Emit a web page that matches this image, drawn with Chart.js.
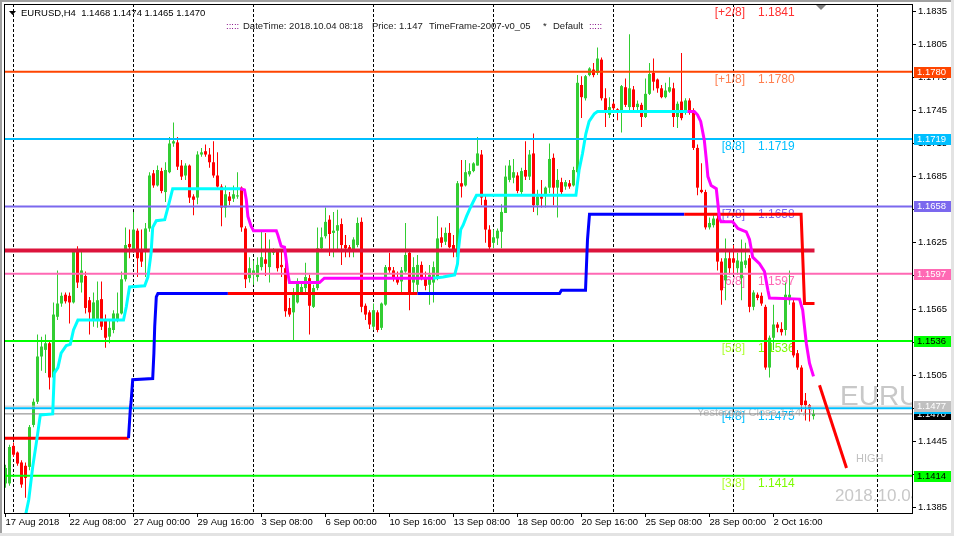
<!DOCTYPE html>
<html>
<head>
<meta charset="utf-8">
<title>EURUSD,H4</title>
<script src="https://cdn.jsdelivr.net/npm/chart.js@4.4.0/dist/chart.umd.min.js"></script>
<style>
    html, body { margin: 0; padding: 0; background: #fff; }
    #wrap { width: 954px; height: 536px; position: relative; }
</style>
</head>
<body>
<div id="wrap"><canvas id="priceChart" width="954" height="536"></canvas></div>
<script>
// x-axis labels (bar index -> text) and weekly separators
const timeTickIndex = [0, 16, 32, 48, 64, 80, 96, 112, 128, 144, 160, 176, 192];
const timeTickText = ['17 Aug 2018', '22 Aug 08:00', '27 Aug 00:00', '29 Aug 16:00', '3 Sep 08:00', '6 Sep 00:00',
    '10 Sep 16:00', '13 Sep 08:00', '18 Sep 00:00', '20 Sep 16:00', '25 Sep 08:00', '28 Sep 00:00', '2 Oct 16:00'];
const weekStarts = [2, 32, 62, 92, 122, 152, 182, 218];

// right price axis
const priceTicks = [1.1385, 1.1415, 1.1445, 1.1475, 1.1505, 1.1535, 1.1565, 1.1595,
    1.1625, 1.1655, 1.1685, 1.1715, 1.1745, 1.1775, 1.1805, 1.1835];

// H4 candles, one per bar (index 0 = 17 Aug 16:00)
const openP = [
    1.1407, 1.1407, 1.1441, 1.1435, 1.1426, 1.1423, 1.1422, 1.1460, 1.1481, 1.1522,
    1.1528, 1.1534, 1.1503, 1.1558, 1.1570, 1.1578, 1.1577, 1.1571, 1.1617, 1.1589,
    1.1595, 1.1573, 1.1555, 1.1555, 1.1574, 1.1555, 1.1540, 1.1546, 1.1555, 1.1561,
    1.1592, 1.1624, 1.1618, 1.1636, 1.1618, 1.1617, 1.1638, 1.1688, 1.1677, 1.1690,
    1.1671, 1.1689, 1.1715, 1.1716, 1.1695, 1.1686, 1.1695, 1.1667, 1.1666, 1.1705,
    1.1708, 1.1705, 1.1698, 1.1686, 1.1676, 1.1657, 1.1667, 1.1665, 1.1667, 1.1675,
    1.1638, 1.1593, 1.1596, 1.1594, 1.1603, 1.1610, 1.1603, 1.1616, 1.1617, 1.1605,
    1.1602, 1.1566, 1.1562, 1.1571, 1.1580, 1.1584, 1.1593, 1.1567, 1.1584, 1.1620,
    1.1631, 1.1646, 1.1634, 1.1636, 1.1642, 1.1623, 1.1621, 1.1618, 1.1623, 1.1644,
    1.1568, 1.1562, 1.1549, 1.1562, 1.1548, 1.1569, 1.1603, 1.1600, 1.1594, 1.1590,
    1.1599, 1.1616, 1.1589, 1.1587, 1.1605, 1.1594, 1.1587, 1.1589, 1.1593, 1.1630,
    1.1626, 1.1634, 1.1623, 1.1612, 1.1679, 1.1677, 1.1687, 1.1690, 1.1695, 1.1705,
    1.1664, 1.1637, 1.1625, 1.1629, 1.1635, 1.1652, 1.1682, 1.1684, 1.1686, 1.1671,
    1.1691, 1.1685, 1.1706, 1.1659, 1.1667, 1.1668, 1.1675, 1.1702, 1.1675, 1.1680,
    1.1676, 1.1679, 1.1677, 1.1689, 1.1768, 1.1756, 1.1777, 1.1782, 1.1779, 1.1791,
    1.1756, 1.1741, 1.1751, 1.1746, 1.1744, 1.1766, 1.1748, 1.1764, 1.1748, 1.1750,
    1.1739, 1.1760, 1.1779, 1.1773, 1.1765, 1.1757, 1.1762, 1.1765, 1.1739, 1.1753,
    1.1743, 1.1754, 1.1743, 1.1711, 1.1673, 1.1671, 1.1639, 1.1641, 1.1647, 1.1608,
    1.1591, 1.1611, 1.1611, 1.1602, 1.1593, 1.1605, 1.1611, 1.1567, 1.1578, 1.1577,
    1.1567, 1.1512, 1.1539, 1.1551, 1.1547, 1.1546, 1.1573, 1.1571, 1.1525, 1.1512,
    1.1482, 1.1478, 1.1468
];
const highP = [
    1.1424, 1.1442, 1.1444, 1.1436, 1.1428, 1.1426, 1.1460, 1.1484, 1.1542, 1.1540,
    1.1542, 1.1537, 1.1571, 1.1600, 1.1580, 1.1580, 1.1580, 1.1618, 1.1622, 1.1617,
    1.1599, 1.1576, 1.1580, 1.1590, 1.1590, 1.1560, 1.1555, 1.1564, 1.1580, 1.1599,
    1.1639, 1.1637, 1.1653, 1.1638, 1.1637, 1.1643, 1.1689, 1.1691, 1.1695, 1.1693,
    1.1698, 1.1721, 1.1734, 1.1721, 1.1700, 1.1697, 1.1696, 1.1669, 1.1708, 1.1711,
    1.1714, 1.1711, 1.1717, 1.1707, 1.1678, 1.1677, 1.1671, 1.1677, 1.1689, 1.1676,
    1.1640, 1.1612, 1.1609, 1.1612, 1.1635, 1.1634, 1.1628, 1.1620, 1.1618, 1.1617,
    1.1611, 1.1575, 1.1584, 1.1593, 1.1590, 1.1607, 1.1596, 1.1587, 1.1639, 1.1639,
    1.1657, 1.1650, 1.1653, 1.1655, 1.1647, 1.1632, 1.1623, 1.1630, 1.1648, 1.1648,
    1.1570, 1.1564, 1.1570, 1.1564, 1.1571, 1.1605, 1.1616, 1.1603, 1.1599, 1.1603,
    1.1643, 1.1618, 1.1612, 1.1614, 1.1608, 1.1599, 1.1605, 1.1608, 1.1649, 1.1639,
    1.1639, 1.1643, 1.1632, 1.1681, 1.1700, 1.1700, 1.1697, 1.1698, 1.1721, 1.1709,
    1.1668, 1.1641, 1.1637, 1.1638, 1.1660, 1.1695, 1.1700, 1.1701, 1.1689, 1.1693,
    1.1717, 1.1709, 1.1724, 1.1673, 1.1682, 1.1676, 1.1715, 1.1706, 1.1692, 1.1684,
    1.1682, 1.1682, 1.1694, 1.1777, 1.1776, 1.1777, 1.1784, 1.1788, 1.1802, 1.1793,
    1.1765, 1.1757, 1.1753, 1.1747, 1.1768, 1.1774, 1.1814, 1.1767, 1.1754, 1.1752,
    1.1774, 1.1788, 1.1792, 1.1774, 1.1768, 1.1770, 1.1775, 1.1770, 1.1753, 1.1797,
    1.1756, 1.1756, 1.1747, 1.1714, 1.1697, 1.1673, 1.1648, 1.1650, 1.1650, 1.1611,
    1.1629, 1.1618, 1.1623, 1.1616, 1.1628, 1.1625, 1.1614, 1.1582, 1.1580, 1.1580,
    1.1569, 1.1541, 1.1569, 1.1553, 1.1553, 1.1589, 1.1600, 1.1575, 1.1528, 1.1514,
    1.1489, 1.1479, 1.1474
];
const lowP = [
    1.1403, 1.1405, 1.1431, 1.1423, 1.1403, 1.1394, 1.1419, 1.1458, 1.1479, 1.1509,
    1.1507, 1.1492, 1.1502, 1.1555, 1.1567, 1.1570, 1.1552, 1.1570, 1.1584, 1.1580,
    1.1561, 1.1542, 1.1549, 1.1548, 1.1546, 1.1530, 1.1534, 1.1543, 1.1553, 1.1560,
    1.1590, 1.1611, 1.1616, 1.1594, 1.1603, 1.1594, 1.1635, 1.1675, 1.1676, 1.1670,
    1.1662, 1.1688, 1.1712, 1.1691, 1.1682, 1.1682, 1.1661, 1.1650, 1.1660, 1.1703,
    1.1703, 1.1693, 1.1684, 1.1675, 1.1640, 1.1648, 1.1659, 1.1662, 1.1665, 1.1635,
    1.1584, 1.1589, 1.1587, 1.1590, 1.1600, 1.1595, 1.1589, 1.1614, 1.1599, 1.1594,
    1.1558, 1.1558, 1.1537, 1.1570, 1.1578, 1.1580, 1.1542, 1.1566, 1.1582, 1.1618,
    1.1629, 1.1613, 1.1612, 1.1617, 1.1605, 1.1612, 1.1612, 1.1612, 1.1621, 1.1562,
    1.1555, 1.1547, 1.1546, 1.1544, 1.1546, 1.1568, 1.1598, 1.1590, 1.1587, 1.1578,
    1.1598, 1.1564, 1.1578, 1.1580, 1.1591, 1.1582, 1.1569, 1.1571, 1.1591, 1.1621,
    1.1623, 1.1620, 1.1612, 1.1609, 1.1666, 1.1676, 1.1685, 1.1689, 1.1695, 1.1659,
    1.1625, 1.1618, 1.1620, 1.1623, 1.1620, 1.1652, 1.1680, 1.1679, 1.1670, 1.1668,
    1.1682, 1.1682, 1.1653, 1.1650, 1.1657, 1.1657, 1.1670, 1.1659, 1.1648, 1.1669,
    1.1673, 1.1674, 1.1676, 1.1686, 1.1738, 1.1754, 1.1776, 1.1775, 1.1777, 1.1754,
    1.1730, 1.1738, 1.1744, 1.1736, 1.1725, 1.1748, 1.1745, 1.1745, 1.1745, 1.1730,
    1.1738, 1.1759, 1.1763, 1.1761, 1.1756, 1.1756, 1.1761, 1.1730, 1.1729, 1.1736,
    1.1741, 1.1741, 1.1709, 1.1668, 1.1670, 1.1637, 1.1637, 1.1639, 1.1600, 1.1569,
    1.1573, 1.1596, 1.1596, 1.1596, 1.1573, 1.1602, 1.1562, 1.1564, 1.1573, 1.1568,
    1.1510, 1.1503, 1.1528, 1.1544, 1.1541, 1.1541, 1.1569, 1.1521, 1.1510, 1.1472,
    1.1464, 1.1463, 1.1465
];
const closeP = [
    1.1421, 1.1440, 1.1433, 1.1425, 1.1406, 1.1412, 1.1458, 1.1481, 1.1522, 1.1531,
    1.1534, 1.1503, 1.1560, 1.1570, 1.1577, 1.1572, 1.1571, 1.1617, 1.1589, 1.1600,
    1.1566, 1.1562, 1.1571, 1.1573, 1.1549, 1.1539, 1.1548, 1.1561, 1.1561, 1.1592,
    1.1623, 1.1621, 1.1637, 1.1611, 1.1608, 1.1638, 1.1686, 1.1677, 1.1691, 1.1672,
    1.1691, 1.1715, 1.1717, 1.1694, 1.1685, 1.1695, 1.1666, 1.1664, 1.1705, 1.1707,
    1.1705, 1.1698, 1.1686, 1.1676, 1.1657, 1.1669, 1.1663, 1.1669, 1.1668, 1.1639,
    1.1592, 1.1602, 1.1600, 1.1605, 1.1612, 1.1606, 1.1617, 1.1617, 1.1602, 1.1603,
    1.1563, 1.1560, 1.1580, 1.1590, 1.1585, 1.1594, 1.1568, 1.1584, 1.1620, 1.1630,
    1.1644, 1.1633, 1.1636, 1.1641, 1.1623, 1.1620, 1.1619, 1.1628, 1.1643, 1.1567,
    1.1560, 1.1551, 1.1564, 1.1546, 1.1570, 1.1603, 1.1600, 1.1594, 1.1589, 1.1600,
    1.1614, 1.1578, 1.1603, 1.1605, 1.1594, 1.1586, 1.1596, 1.1603, 1.1629, 1.1625,
    1.1634, 1.1621, 1.1617, 1.1679, 1.1676, 1.1689, 1.1690, 1.1697, 1.1706, 1.1666,
    1.1637, 1.1621, 1.1630, 1.1636, 1.1653, 1.1685, 1.1695, 1.1689, 1.1672, 1.1690,
    1.1685, 1.1705, 1.1659, 1.1667, 1.1665, 1.1675, 1.1701, 1.1675, 1.1682, 1.1671,
    1.1680, 1.1676, 1.1691, 1.1770, 1.1757, 1.1776, 1.1783, 1.1777, 1.1792, 1.1756,
    1.1743, 1.1748, 1.1747, 1.1744, 1.1767, 1.1750, 1.1765, 1.1748, 1.1751, 1.1739,
    1.1760, 1.1778, 1.1771, 1.1765, 1.1757, 1.1763, 1.1766, 1.1739, 1.1751, 1.1738,
    1.1754, 1.1743, 1.1711, 1.1675, 1.1671, 1.1639, 1.1643, 1.1647, 1.1608, 1.1582,
    1.1611, 1.1602, 1.1607, 1.1609, 1.1608, 1.1609, 1.1567, 1.1580, 1.1575, 1.1570,
    1.1512, 1.1539, 1.1551, 1.1548, 1.1544, 1.1578, 1.1578, 1.1523, 1.1512, 1.1478,
    1.1478, 1.1474, 1.1470
];

// trailing line: vertices (bar position, price); u = cyan, d = magenta for the segment that starts there
const trendX = [5, 5.8, 6.8, 7.8, 8.7, 11.8, 12.2, 13.1, 13.9, 15.2, 16.2, 17, 18.1, 29.5, 30.2, 31, 34.8, 35.6,
    36.4, 36.8, 37.7, 39.8, 40.6, 41.8,
    58.7, 59.75, 60.2, 60.6, 61.4, 62, 67.7, 68.1, 68.9, 69.75, 70.2, 70.6, 71, 78.5, 79.7,
    106.9, 109.4, 112.3, 113, 113.3, 113.8, 114.4, 115.25, 116.1, 116.9, 117.75, 142.6, 143.4, 144.25,
    145.1, 145.9, 147.2, 148,
    170.5, 172.2, 173, 173.8, 174.7, 175.3, 175.6, 176.4, 177.7, 178.5, 178.9, 181.8, 183.1, 185.2, 186,
    186.8, 188.5, 189.75, 190.6, 191, 198.5, 199.3, 200.2, 201, 202];
const trendPrice = [1.1378, 1.1392, 1.1422, 1.1446, 1.1469, 1.1470, 1.1507, 1.1512, 1.1525, 1.1532, 1.1533,
    1.1546, 1.1555, 1.1555, 1.1567, 1.1585, 1.1586, 1.1594, 1.1616, 1.1639, 1.1645, 1.1646, 1.1657, 1.1674,
    1.1674, 1.1673, 1.1664, 1.1649, 1.1640, 1.1636, 1.1636, 1.1632, 1.1622, 1.1621, 1.1609, 1.1597, 1.1589,
    1.1589, 1.1593,
    1.1593, 1.1594, 1.1596, 1.1606, 1.1621, 1.1637, 1.1641, 1.1649, 1.1656, 1.1662, 1.1668, 1.1668, 1.1691,
    1.1706, 1.1724, 1.1735, 1.1742, 1.1744,
    1.1744, 1.1744, 1.1741, 1.1735, 1.1718, 1.1697, 1.1685, 1.1677, 1.1674, 1.1647, 1.1644, 1.1644, 1.1638,
    1.1635, 1.1628, 1.1612, 1.1606, 1.1599, 1.1582, 1.1575, 1.1574, 1.1564, 1.1534, 1.1516, 1.1504];
const trendDir = 'uuuuuuuuuuuuuuuuuuuuuuuu' + 'ddddddddddddddd' + 'uuuuuuuuuuuuuuuuuu' + 'ddddddddddddddddddddddddd';

// slow stop line: b = blue, r = red for the segment that starts there
const stepX = [-0.25, 30.75, 31.2, 31.4, 31.8, 36.8, 37.1, 37.3, 37.7, 38.1, 55.6, 103, 138.5, 139, 145, 145.5,
    146, 169.7, 198.9, 199.25, 199.75, 202.25];
const stepPrice = [1.1448, 1.1448, 1.1474, 1.1481, 1.1501, 1.1502, 1.1525, 1.1549, 1.1576, 1.1579, 1.1579,
    1.1579, 1.1579, 1.1582, 1.1582, 1.1628, 1.1651, 1.1651, 1.1651, 1.1618, 1.1570, 1.1570];
const stepDir = 'rbbbbbbbbbrbbbbbbrrrrr';

// Murrey levels
const levelNames = ['[+2/8]', '[+1/8]', '[8/8]', '[7/8]', '[6/8]', '[5/8]', '[4/8]', '[3/8]'];
const levelPrices = [1.1841, 1.1780, 1.1719, 1.1658, 1.1597, 1.1536, 1.1475, 1.1414];
const levelColors = ['#FF0000', '#FF4500', '#00BFFF', '#7B68EE', '#FF69B4', '#00FF00', '#00BFFF', '#00FF00'];
const levelNameColors = ['#FF3030', '#FF7F50', '#00BFFF', '#7B68EE', '#FF69B4', '#ADFF2F', '#00BFFF', '#ADFF2F'];
const levelValueColors = ['#FF3030', '#FF7F50', '#00BFFF', '#7B68EE', '#FF69B4', '#7CFC00', '#00BFFF', '#7CFC00'];

const pivotPrice = 1.1618;
const yesterdayClose = 1.1477;
const bidPrice = 1.1470;
const projX = [203.5, 210.25];
const projPrice = [1.1496, 1.1421];

// price boxes on the right axis (drawn in this order)
const axisMarkPrices = [1.1780, 1.1719, 1.1658, 1.1597, 1.1536, 1.1470, 1.1475, 1.1477, 1.1414];
const axisMarkFill = ['#FF4500', '#00BFFF', '#7B68EE', '#FF69B4', '#00FF00', '#000000', '#00BFFF', '#C0C0C0', '#00FF00'];
const axisMarkInk = ['#fff', '#fff', '#fff', '#fff', '#000', '#fff', '#fff', '#fff', '#000'];

const fontFamily = '"Liberation Sans", Arial, sans-serif';
const BULL = '#32CD32';
const BEAR = '#FF0000';
const X_MIN = -0.375;
const X_MAX = 226.625;

document.addEventListener('DOMContentLoaded', function() {
    const ctxEl = document.getElementById('priceChart');

    const candleColors = closeP.map((c, i) => (c >= openP[i] ? BULL : BEAR));
    const bodies = openP.map((o, i) => ({ x: i, y: [Math.min(o, closeP[i]), Math.max(o, closeP[i])] }));
    const wicks = lowP.map((l, i) => ({ x: i, y: [l, highP[i]] }));

    const flat = (p, color, width, order) => ({
        type: 'line',
        data: [{ x: X_MIN, y: p }, { x: X_MAX, y: p }],
        borderColor: color,
        borderWidth: width,
        pointRadius: 0,
        order: order
    });

    // the +2/8 line sits on the top frame, so only its caption is drawn
    const levelLines = levelPrices.slice(1).map((p, k) => flat(p, levelColors[k + 1], 2, 5));

    const overlay = {
        id: 'overlay',
        beforeDatasetsDraw(chart) {
            const { ctx, chartArea: a, scales: { x, y } } = chart;
            ctx.save();
            ctx.beginPath();
            ctx.rect(a.left, a.top, a.right - a.left, a.bottom - a.top);
            ctx.clip();

            // weekly separators
            ctx.strokeStyle = '#000';
            ctx.lineWidth = 1;
            ctx.setLineDash([3, 2]);
            weekStarts.forEach(i => {
                const px = Math.floor(x.getPixelForValue(i)) + 0.5;
                ctx.beginPath();
                ctx.moveTo(px, a.top);
                ctx.lineTo(px, a.bottom);
                ctx.stroke();
            });
            ctx.setLineDash([]);

            // level captions
            ctx.textBaseline = 'middle';
            ctx.font = '12px ' + fontFamily;
            levelPrices.forEach((p, k) => {
                const py = y.getPixelForValue(p) + 8;
                ctx.textAlign = 'right';
                ctx.fillStyle = levelNameColors[k];
                ctx.fillText(levelNames[k], 745, py);
                ctx.textAlign = 'left';
                ctx.fillStyle = levelValueColors[k];
                ctx.fillText(p.toFixed(4), 758, py);
            });

            ctx.font = '11px ' + fontFamily;
            ctx.fillStyle = '#C0C0C0';
            ctx.fillText('Yesterday Close ' + yesterdayClose.toFixed(4), 697, y.getPixelForValue(yesterdayClose) + 7);
            ctx.fillText('HIGH', 856, 459);

            ctx.fillStyle = '#C8C8C8';
            ctx.font = '28px ' + fontFamily;
            ctx.fillText('EURUSD', 840, 397);
            ctx.font = '17px ' + fontFamily;
            ctx.fillText('2018.10.04 08:00', 835, 496);
            ctx.restore();
        },
        afterDatasetsDraw(chart) {
            const { ctx, chartArea: a } = chart;
            ctx.save();
            ctx.strokeStyle = '#000';
            ctx.lineWidth = 1;
            ctx.strokeRect(a.left + 0.5, a.top + 0.5, a.right - a.left, a.bottom - a.top);
            // chart shift marker
            ctx.fillStyle = '#808080';
            ctx.beginPath();
            ctx.moveTo(816, 5);
            ctx.lineTo(826, 5);
            ctx.lineTo(821, 10);
            ctx.closePath();
            ctx.fill();
            ctx.restore();
        },
        afterDraw(chart) {
            const { ctx, chartArea: a, scales: { y } } = chart;
            ctx.save();
            ctx.font = '9.5px ' + fontFamily;
            ctx.textBaseline = 'middle';
            ctx.textAlign = 'left';

            // price boxes on the axis
            axisMarkPrices.forEach((p, k) => {
                const py = Math.round(y.getPixelForValue(p));
                const label = p.toFixed(4);
                const w = Math.ceil(ctx.measureText(label).width) + 7;
                ctx.fillStyle = axisMarkFill[k];
                ctx.fillRect(a.right + 2, py - 5, w, 11);
                ctx.fillStyle = axisMarkInk[k];
                ctx.fillText(label, a.right + 5, py + 0.5);
            });

            // header lines
            ctx.fillStyle = '#000';
            ctx.beginPath();
            ctx.moveTo(9, 11);
            ctx.lineTo(16, 11);
            ctx.lineTo(12.5, 15);
            ctx.closePath();
            ctx.fill();
            const last = openP.length - 1;
            const ohlc = [openP[last], highP[last], lowP[last], closeP[last]].map(v => v.toFixed(4)).join(' ');
            ctx.fillText('EURUSD,H4  ' + ohlc, 21, 13);

            const info = [
                [':::::', 226, '#800080'],
                ['DateTime: 2018.10.04 08:18', 243, '#1a1a1a'],
                ['Price: ' + bidPrice.toFixed(3), 372, '#1a1a1a'],
                ['TimeFrame-2007-v0_05', 429, '#1a1a1a'],
                ['*', 543, '#1a1a1a'],
                ['Default', 553, '#1a1a1a'],
                [':::::', 589, '#800080']
            ];
            info.forEach(([t, px, c]) => {
                ctx.fillStyle = c;
                ctx.fillText(t, px, 26);
            });

            // window frame
            ctx.fillStyle = '#A0A0A0';
            ctx.fillRect(0, 0, 954, 2);
            ctx.fillRect(0, 0, 2, 536);
            ctx.fillStyle = '#E3E3E3';
            ctx.fillRect(951, 0, 3, 536);
            ctx.fillRect(0, 533, 954, 3);
            ctx.restore();
        }
    };

    new Chart(ctxEl, {
        type: 'line',
        data: {
            datasets: [
                {
                    type: 'line',
                    data: projX.map((v, k) => ({ x: v, y: projPrice[k] })),
                    borderColor: '#FF0000',
                    borderWidth: 3,
                    pointRadius: 0,
                    order: 1
                },
                {
                    type: 'line',
                    data: trendX.map((v, k) => ({ x: v, y: trendPrice[k] })),
                    borderColor: '#00FFFF',
                    borderWidth: 3,
                    pointRadius: 0,
                    borderJoinStyle: 'miter',
                    segment: {
                        borderColor: c => (trendDir[c.p0DataIndex] === 'u' ? '#00FFFF' : '#FF00FF')
                    },
                    order: 2
                },
                {
                    type: 'line',
                    data: stepX.map((v, k) => ({ x: v, y: stepPrice[k] })),
                    borderColor: '#0000FF',
                    borderWidth: 3,
                    pointRadius: 0,
                    borderJoinStyle: 'miter',
                    segment: {
                        borderColor: c => (stepDir[c.p0DataIndex] === 'b' ? '#0000FF' : '#FF0000')
                    },
                    order: 3
                },
                {
                    type: 'line',
                    data: [{ x: -0.375, y: pivotPrice }, { x: 202.25, y: pivotPrice }],
                    borderColor: '#DC143C',
                    borderWidth: 4,
                    pointRadius: 0,
                    order: 4
                },
                ...levelLines,
                flat(yesterdayClose, '#C8C8C8', 1, 6),
                flat(bidPrice, '#808080', 1, 6),
                {
                    type: 'bar',
                    data: bodies,
                    backgroundColor: candleColors,
                    barThickness: 3,
                    grouped: false,
                    minBarLength: 1,
                    inflateAmount: 0,
                    borderWidth: 0,
                    order: 10
                },
                {
                    type: 'bar',
                    data: wicks,
                    backgroundColor: candleColors,
                    barThickness: 1,
                    grouped: false,
                    minBarLength: 1,
                    inflateAmount: 0,
                    borderWidth: 0,
                    order: 11
                }
            ]
        },
        options: {
            responsive: false,
            devicePixelRatio: 1,
            animation: false,
            events: [],
            layout: { padding: { left: 4, top: 4, right: 0, bottom: 0 } },
            plugins: {
                legend: { display: false },
                tooltip: { enabled: false },
                title: { display: false }
            },
            scales: {
                x: {
                    type: 'linear',
                    min: X_MIN,
                    max: X_MAX,
                    offset: false,
                    afterBuildTicks: s => { s.ticks = timeTickIndex.map(v => ({ value: v })); },
                    afterFit: s => { s.height = 23; s.paddingLeft = 0; s.paddingRight = 0; },
                    ticks: {
                        autoSkip: false,
                        maxRotation: 0,
                        align: 'start',
                        padding: 0,
                        color: '#000',
                        font: { family: fontFamily, size: 9.5 },
                        callback: v => timeTickText[timeTickIndex.indexOf(v)]
                    },
                    grid: { drawOnChartArea: false, drawTicks: true, tickLength: 4, color: '#000', offset: false },
                    border: { display: false }
                },
                y: {
                    type: 'linear',
                    position: 'right',
                    min: 1.13802,
                    max: 1.18414,
                    afterBuildTicks: s => { s.ticks = priceTicks.map(v => ({ value: v })); },
                    afterFit: s => { s.width = 42; s.paddingTop = 0; s.paddingBottom = 0; },
                    ticks: {
                        autoSkip: false,
                        padding: 2,
                        color: '#000',
                        font: { family: fontFamily, size: 9.5 },
                        callback: v => v.toFixed(4)
                    },
                    grid: { drawOnChartArea: false, drawTicks: true, tickLength: 4, color: '#000' },
                    border: { display: false }
                }
            }
        },
        plugins: [overlay]
    });
});
</script>
</body>
</html>
